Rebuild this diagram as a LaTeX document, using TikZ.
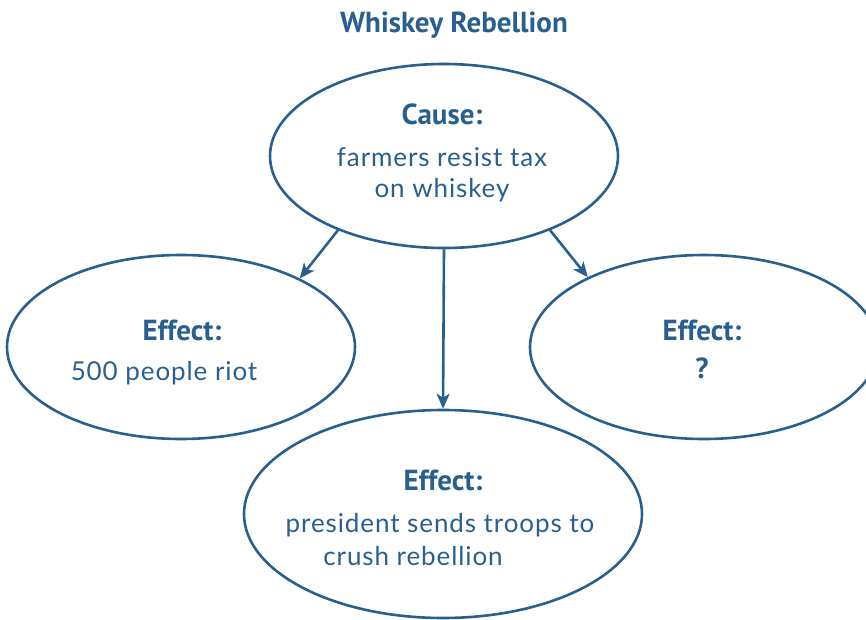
\documentclass[tikz,border=0pt]{standalone}
\usepackage{fontspec}
\setmainfont{Lato}
\newfontfamily\bodyfont{Lato}[LetterSpace=3.5]
\newfontfamily\headfont{PT Sans}
\usetikzlibrary{arrows.meta}
\usetikzlibrary{shapes.geometric}
\definecolor{rebblue}{RGB}{41,95,143}

\begin{document}
\begin{tikzpicture}[> = {Stealth[length=15pt, width=13pt, inset=4pt]}, x = 1pt, y = -1pt,
  bubble/.style = {ellipse, draw=rebblue, line width=2.6pt, inner sep=0pt},
  head/.style = {anchor=base, text=rebblue, font=\headfont\bfseries\fontsize{29}{29}\selectfont},
  body/.style = {anchor=base, text=rebblue, font=\bodyfont\fontsize{26}{26}\selectfont},
  link/.style = {->, draw=rebblue, line width=2.6pt}]
\useasboundingbox (0,0) rectangle (866,620);

\node[head, font=\headfont\bfseries\fontsize{29}{29}\selectfont] (title) at (454,33) {Whiskey Rebellion};

% the four bubbles
\node[bubble, minimum width=348pt, minimum height=184pt] (cause) at (444,156) {};
\node[bubble, minimum width=348pt, minimum height=184pt] (left) at (181,347) {};
\node[bubble, minimum width=348pt, minimum height=184pt] (right) at (704,347) {};
\node[bubble, minimum width=398pt, minimum height=208pt] (bottom) at (443,514) {};

% texts
\node[head] (causehead) at (442,125) {Cause:};
\node[body] (causeline1) at (442,167) {farmers resist tax};
\node[body] (causeline2) at (442,198) {on whiskey};
\node[head] (lefthead) at (182,340) {Effect:};
\node[body] (leftline) at (164,380) {500 people riot};
\node[head] (righthead) at (702,340) {Effect:};
\node[head] (rightline) at (702,378) {?};
\node[head] (bottomhead) at (443,490) {Effect:};
\node[body] (bottomline1) at (440,532) {president sends troops to};
\node[body] (bottomline2) at (413,565) {crush rebellion};

\draw[link] (cause.215) -- (left.30);
\draw[link] (cause.south) -- (bottom.north);
\draw[link] (cause.325) -- (right.149);

\end{tikzpicture}
\end{document}
